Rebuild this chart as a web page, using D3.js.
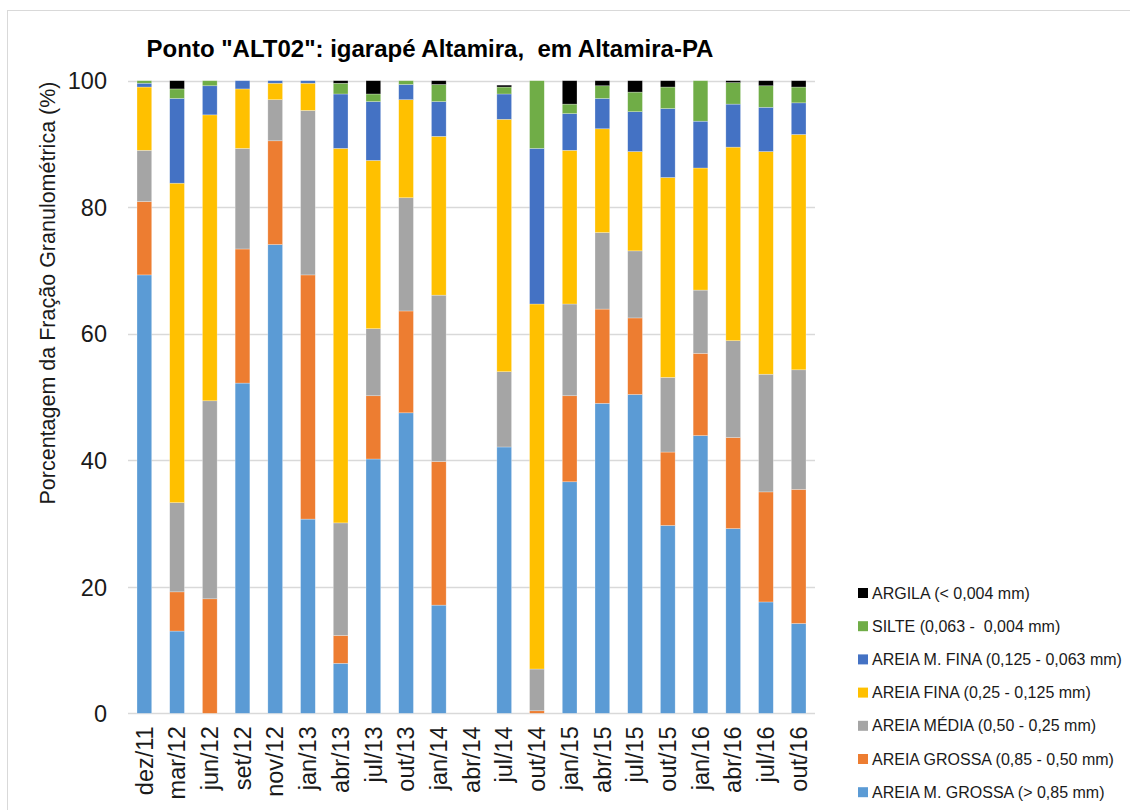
<!DOCTYPE html>
<html>
<head>
<meta charset="utf-8">
<script src="https://cdn.jsdelivr.net/npm/d3@7"></script>
<style>
  html, body { margin: 0; padding: 0; background: #fff; }
  svg { display: block; font-family: "Liberation Sans", Arial, sans-serif; }
</style>
</head>
<body>
<svg id="chart" width="1130" height="810"></svg>
<script>
const categories = ["dez/11","mar/12","jun/12","set/12","nov/12","jan/13","abr/13","jul/13","out/13","jan/14","abr/14","jul/14","out/14","jan/15","abr/15","jul/15","out/15","jan/16","abr/16","jul/16","out/16"];

const areiaMGrossa = [69.3, 13.0, 0.0, 52.2, 74.1, 30.7, 7.9, 40.2, 47.5, 17.1, 0, 42.1, 0.0, 36.6, 49.0, 50.4, 29.7, 43.9, 29.2, 17.6, 14.2];
const areiaGrossa  = [11.6, 6.2, 18.1, 21.2, 16.4, 38.6, 4.4, 10.0, 16.1, 22.7, 0, 0.0, 0.4, 13.6, 14.9, 12.1, 11.6, 13.0, 14.4, 17.4, 21.2];
const areiaMedia   = [8.1, 14.1, 31.3, 15.9, 6.5, 26.0, 17.8, 10.6, 17.9, 26.3, 0, 11.9, 6.6, 14.5, 12.1, 10.6, 11.8, 10.0, 15.3, 18.6, 18.9];
const areiaFina    = [10.0, 50.5, 45.2, 9.4, 2.6, 4.3, 59.2, 26.6, 15.5, 25.1, 0, 39.9, 57.7, 24.3, 16.4, 15.7, 31.6, 19.3, 30.6, 35.2, 37.2];
const areiaMFina   = [0.6, 13.4, 4.6, 1.3, 0.4, 0.4, 8.6, 9.3, 2.4, 5.5, 0, 4.0, 24.6, 5.8, 4.8, 6.3, 10.9, 7.4, 6.8, 7.0, 5.0];
const silte        = [0.4, 1.5, 0.8, 0.0, 0.0, 0.0, 1.7, 1.2, 0.6, 2.7, 0, 1.1, 10.7, 1.5, 2.0, 3.1, 3.4, 6.4, 3.4, 3.4, 2.5];
const argila       = [0.0, 1.3, 0.0, 0.0, 0.0, 0.0, 0.4, 2.1, 0.0, 0.6, 0, 0.3, 0.0, 3.7, 0.8, 1.8, 1.0, 0.0, 0.3, 0.8, 1.0];

const seriesNames = [
  "AREIA M. GROSSA (> 0,85 mm)",
  "AREIA GROSSA (0,85 - 0,50 mm)",
  "AREIA MÉDIA (0,50 - 0,25 mm)",
  "AREIA FINA (0,25 - 0,125 mm)",
  "AREIA M. FINA (0,125 - 0,063 mm)",
  "SILTE (0,063 -  0,004 mm)",
  "ARGILA (< 0,004 mm)"
];
const seriesValues = [areiaMGrossa, areiaGrossa, areiaMedia, areiaFina, areiaMFina, silte, argila];
const seriesColors = ["#5B9BD5", "#ED7D31", "#A5A5A5", "#FFC000", "#4472C4", "#70AD47", "#000000"];
const yTicks = [0, 20, 40, 60, 80, 100];

const svg = d3.select("#chart");

// outer chart border
svg.append("rect")
  .attr("x", 7.5).attr("y", 10.5)
  .attr("width", 1140).attr("height", 820)
  .attr("fill", "none").attr("stroke", "#d9d9d9").attr("stroke-width", 1);

const plot = { left: 128, right: 815, top: 80.7, bottom: 713.3 };

const x = d3.scaleBand()
  .domain(categories)
  .range([plot.left, plot.right])
  .paddingInner(0.55)
  .paddingOuter(0.275);

const y = d3.scaleLinear().domain([0, 100]).range([plot.bottom, plot.top]);

// gridlines
svg.append("g")
  .selectAll("line")
  .data(yTicks)
  .join("line")
  .attr("x1", plot.left).attr("x2", plot.right)
  .attr("y1", d => Math.round(y(d)) + 0.5).attr("y2", d => Math.round(y(d)) + 0.5)
  .attr("stroke", "#d9d9d9").attr("stroke-width", 1.3);

// y axis labels
const yAxis = d3.axisLeft(y).tickValues(yTicks).tickSize(0).tickPadding(0);
const yg = svg.append("g").attr("transform", `translate(${plot.left - 21},0)`).call(yAxis);
yg.select(".domain").remove();
yg.selectAll("text")
  .attr("font-size", 23.5).attr("fill", "#1a1a1a")
  .attr("font-family", "Liberation Sans, Arial, sans-serif")
  .attr("dy", "0.35em");

// stacked data
const table = categories.map((c, i) => {
  const row = { cat: c };
  seriesNames.forEach((s, j) => row[s] = seriesValues[j][i]);
  return row;
});
const stack = d3.stack().keys(seriesNames);
const stacked = stack(table);

svg.append("g")
  .selectAll("g")
  .data(stacked)
  .join("g")
  .attr("fill", (d, i) => seriesColors[i])
  .selectAll("rect")
  .data(d => d.filter(p => p[1] - p[0] > 0))
  .join("rect")
  .attr("x", d => x(d.data.cat))
  .attr("width", x.bandwidth())
  .attr("y", d => y(d[1]))
  .attr("height", d => y(d[0]) - y(d[1]))
  .attr("stroke", "#ffffff").attr("stroke-opacity", 0.45).attr("stroke-width", 0.6);

// x axis labels
const xAxis = d3.axisBottom(x).tickSize(0).tickPadding(0);
const xg = svg.append("g").attr("transform", `translate(0,${plot.bottom})`).call(xAxis);
xg.select(".domain").remove();
xg.selectAll("text")
  .attr("font-size", 23.5).attr("fill", "#1a1a1a")
  .attr("font-family", "Liberation Sans, Arial, sans-serif")
  .attr("text-anchor", "end")
  .attr("transform", "translate(0,13) rotate(-90)")
  .attr("x", 0).attr("y", 0).attr("dy", "0.35em");

// title
svg.append("text")
  .attr("x", 430).attr("y", 57)
  .attr("text-anchor", "middle")
  .attr("font-size", 24).attr("font-weight", "bold").attr("fill", "#000")
  .style("white-space", "pre")
  .text('Ponto "ALT02": igarapé Altamira,  em Altamira-PA');

// y axis title
svg.append("text")
  .attr("transform", "translate(55,293) rotate(-90)")
  .attr("text-anchor", "middle")
  .attr("font-size", 21.5).attr("fill", "#1a1a1a")
  .text("Porcentagem da Fração Granulométrica (%)");

// legend (top-down: reversed order)
const legendOrder = d3.range(seriesNames.length).reverse();
const lg = svg.append("g")
  .selectAll("g")
  .data(legendOrder)
  .join("g")
  .attr("transform", (d, i) => `translate(858,${593 + i * 33.2})`);
lg.append("rect")
  .attr("x", 0).attr("y", -5).attr("width", 10).attr("height", 10)
  .attr("fill", d => seriesColors[d]);
lg.append("text")
  .attr("x", 14).attr("y", 0).attr("dy", "0.35em")
  .attr("font-size", 16).attr("fill", "#1a1a1a")
  .style("white-space", "pre")
  .text(d => seriesNames[d]);
</script>
</body>
</html>
